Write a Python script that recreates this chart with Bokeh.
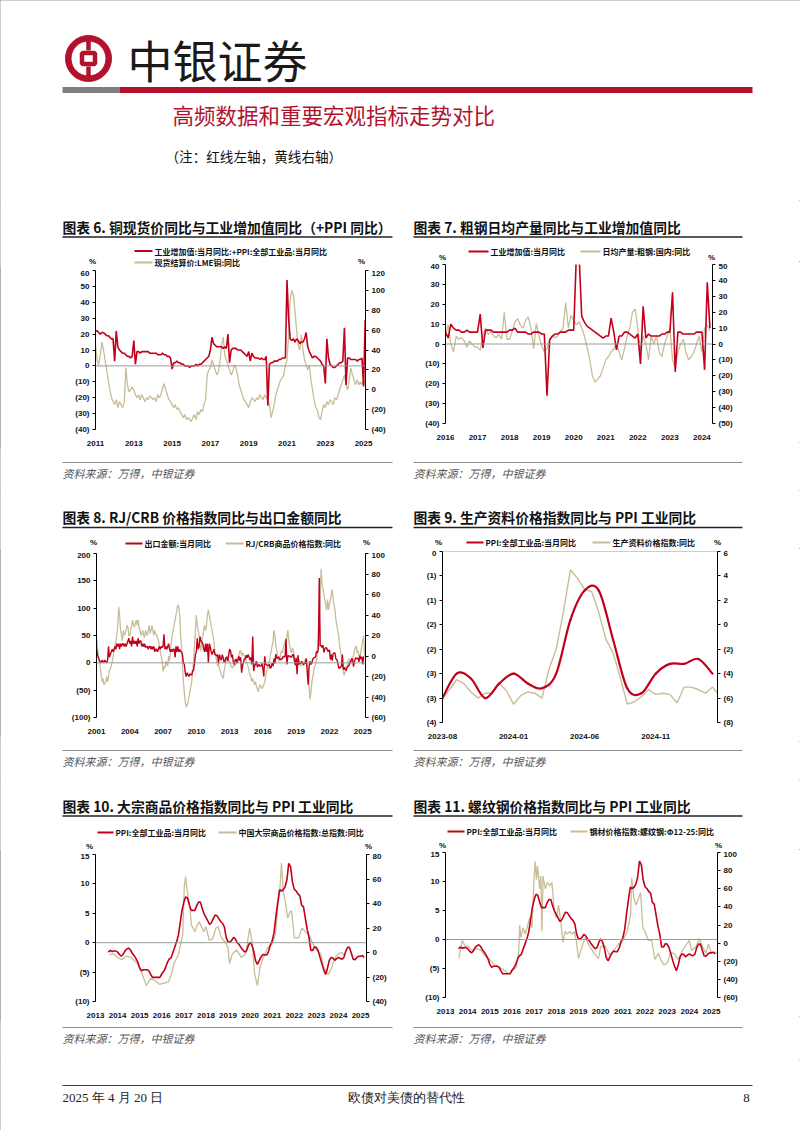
import math
from bokeh.plotting import figure
from bokeh.models import (Range1d, LinearAxis, FixedTicker, CustomJSTickFormatter,
                          Span, Label)
from bokeh.layouts import column, row
from bokeh.embed import file_html
from bokeh.resources import INLINE

RED = "#C2001B"
TAN = "#C8BD99"
BRAND = "#B3122E"
CJK = "Noto Sans CJK SC"
NUM = "Liberation Sans"
SERIF = "Liberation Serif"

# ======================= DATA =======================
# Chart 6: monthly from 2011-01
c6_start = (2011, 1)
c6_iva_plus_ppi = [
    22, 22, 21, 20, 21, 21, 20, 19, 19, 18, 17, 17,
    3, 22, 12, 10, 9, 8, 8, 7, 6, 6, 5, 6,
    16, 1, 9, 9, 8, 9, 9, 9, 9, 9, 8, 8,
    8, 8, 8, 7, 7, 7, 8, 7, 7, 6, 6, 5,
    -2, 2, 2, 3, 2, 2, 1, 1, 0, 0, 0, -1,
    0, 0, 0, 1, 0, 1, 1, 2, 3, 4, 5, 6,
    10, 18, 14, 13, 12, 12, 12, 12, 11, 12, 11, 20,
    2, 10, 11, 11, 11, 10, 10, 10, 9, 8, 7, 6,
    9, 3, 8, 6, 5, 5, 5, 4, 5, 4, 4, 6,
    -25, 1, 2, 2, 3, 3, 3, 4, 4, 5, 5, 5,
    54, 30, 17, 16, 17, 15, 17, 16, 14, 15, 15, 17,
    21, 12, 9, 7, 5, 6, 6, 5, 4, 3, 1, 0,
    -11, 17, 5, 1, 0, -1, -1, 0, 1, 2, 2, 3,
    24, -12, 5, 5, 4, 4, 4, 4, 3, 4, 4, 5,
    -13, 29,
]
c6_lme_copper = [
    45, 30, 25, 35, 48, 40, 30, 20, 10, 0, -8, -12,
    -15, -10, -18, -12, -15, -18, -13, 22, 5, -2, 0, 3,
    0, -5, -8, -5, -10, -5, -8, -12, -8, -10, -6, -8,
    -10, -8, -12, -5, -8, -5, 2, 6, 0, -5, -10, -12,
    -15, -18, -15, -20, -18, -22, -25, -28, -25, -30, -28, -30,
    -32, -28, -25, -30, -22, -25, -20, -22, -15, -10, 15, 20,
    22, 30, 25, 20, 15, 18, 28, 45, 53, 35, 30, 25,
    20, 15, 18, 25, 22, 15, 5, 0, -5, -10, -12, -15,
    -18, -12, -8, -10, -12, -8, -10, -5, -8, -10, -5, -8,
    -10, -15, -28, -22, -15, -5, 0, 5, 10, 12, 15, 25,
    30, 55, 90, 100, 95, 80, 60, 45, 40, 55, 40, 30,
    25, 20, 25, 10, 0, -10, -18, -20, -28, -30, -22, -15,
    -18, -12, -15, -10, -12, -15, -8, -10, -5, 0, 5, 10,
    15, 5, 0, 10, 22, 15, 10, 5, 10, 5, 8, 5,
    10, 5,
]
c6_years = list(range(2011, 2026, 2))
c6_left_ticks = list(range(-40, 61, 10))
c6_right_ticks = list(range(-40, 121, 20))

# Chart 7: monthly from 2016-01
c7_start = (2016, 1)
c7_iva = [
    6, 3, 10, 8, 7, 7, 6, 6, 7, 6, 6, 6,
    6, 15, -2, 7, 7, 7, 6, 6, 6, 6, 6, 6,
    7, 7, 8, 6, 6, 6, 6, 5, 5, 6, 6, 6,
    5, 5, -26, 2, 4, 5, 5, 6, 6, 6, 7, 7,
    7, 45, 45, 14, 11, 9, 8, 7, 6, 5, 4, 3,
    4, 4, 13, 6, -3, 4, 4, 6, 6, 5, 4, 3,
    5, -10, 19, 3, 5, 4, 4, 4, 4, 5, 5, 6,
    6, 26, -14, 6, 6, 5, 5, 5, 5, 5, 6, 6,
    6, -13, 31, 8,
]
c7_steel = [
    5, 12, 0, -5, 5, 3, 4, 2, -2, 2, 0, -2,
    -2, -4, 5, 10, 6, 8, 5, 4, 6, 3, 20, 3,
    3, 8, 14, 16, 12, 10, 15, 17, 10, -3, 13, 5,
    -1, -5, -3, 3, 5, 4, 5, 8, 10, 26, 10, 18,
    15, 12, 14, 10, 5, -2, -10, -20, -24, -22, -20, -15,
    -10, -8, -5, -3, 0, -5, -10, -3, 5, 10, 20, 22,
    10, -5, 5, 0, -10, 5, 0, 5, -5, -8, 0, 5,
    10, -10, -15, -5, 0, 3, -5, -10, -8, -5, 0, 5,
    -5, 10, 12, 8,
]
c7_years = list(range(2016, 2025))
c7_left_ticks = list(range(-40, 41, 10))
c7_right_ticks = list(range(-50, 51, 10))

# Chart 8: monthly from 2001-01
c8_start = (2001, 1)
c8_exports = [
    25, 15, 10, 5, 2, 0, 5, 3, 0, 5, 2, 0,
    5, 30, 10, 15, 20, 25, 20, 25, 30, 25, 35, 30,
    35, 25, 35, 30, 35, 35, 30, 35, 30, 35, 40, 45,
    35, 40, 30, 48, 35, 40, 35, 40, 30, 45, 35, 40,
    40, 30, 35, 30, 35, 28, 30, 30, 25, 30, 30, 25,
    30, 25, 30, 20, 25, 25, 20, 25, 30, 25, 30, 28,
    30, 52, 25, 30, 25, 30, 35, 25, 20, 25, 20, 25,
    25, 10, 30, 20, 30, 20, 25, 20, 20, 15, 0, -3,
    -18, -25, -18, -22, -25, -20, -22, -22, -15, -13, -2, 15,
    20, 45, 25, 30, 48, 40, 38, 35, 25, 20, 35, 20,
    35, 0, 35, 30, 20, 15, 20, 25, 15, 15, 12, 15,
    -1, 15, 8, 5, 15, 10, 1, 3, 10, 10, 3, 14,
    25, 22, 10, 15, 1, -3, 5, 7, 0, 5, 12, 4,
    10, -18, -6, 1, 7, 7, 14, 9, 15, 11, 5, 10,
    -3, 48, -15, -6, -2, 3, -8, -5, -3, -6, -6, -1,
    -11, -25, 12, -2, -4, -5, -4, -3, -10, -8, 0, -6,
    8, -1, 16, 8, 9, 11, 7, 5, 8, 7, 12, 11,
    11, 44, -3, 13, 13, 11, 12, 10, 15, 15, 5, -4,
    9, -21, 14, -3, 1, -1, 3, -1, -3, -1, -1, 8,
    -17, -40, -7, 3, -3, 0, 7, 9, 10, 11, 21, 18,
    25, 155, 31, 32, 28, 32, 19, 25, 28, 27, 22, 21,
    24, 6, 15, 4, 17, 18, 18, 7, 6, 0, -9, -10,
    -7, -7, 15, -12, -8, -12, -14, -9, -6, -6, 1, 2,
    8, 6, -7, 2, 8, 9, 7, 9, 2, 13, 7, 11,
    -3, 12,
]
c8_rjcrb = [
    18, 10, 0, -5, -10, -18, -25, -22, -28, -27, -25, -20,
    -25, -20, -15, -12, -10, -5, 0, 5, 10, 15, 20, 30,
    48, 40, 25, 20, 15, 25, 20, 22, 25, 30, 28, 20,
    20, 25, 30, 35, 30, 28, 32, 35, 30, 35, 28, 25,
    20, 22, 25, 20, 18, 25, 22, 20, 25, 30, 22, 25,
    30, 25, 20, 25, 22, 20, 18, 15, 10, 5, 0, -5,
    -15, -10, -12, -5, -8, -10, 0, -5, 5, 15, 20, 25,
    30, 35, 40, 45, 50, 48, 40, 20, 10, -10, -25, -35,
    -45, -50, -48, -45, -40, -35, -30, -25, -15, -5, 10, 25,
    40, 30, 25, 20, 10, 5, 15, 20, 25, 30, 25, 30,
    40, 45, 40, 35, 30, 25, 20, 15, 5, 0, -5, -10,
    -8, -12, -15, -18, -20, -22, -15, -10, -5, 0, -3, -5,
    -5, -8, -10, -12, -10, -8, -10, -5, -8, -3, 0, 5,
    5, 0, 3, 2, 0, -2, -5, -8, -10, -15, -18, -20,
    -25, -22, -25, -28, -25, -30, -32, -35, -30, -28, -30, -32,
    -30, -28, -25, -20, -15, -10, -12, -5, 0, 5, 10, 15,
    25, 20, 10, 5, 0, -5, -3, 0, 5, 3, 8, 10,
    15, 10, 20, 25, 15, 10, 5, 3, 8, 5, 0, -5,
    -10, -8, -5, -3, -8, -10, -5, -8, -10, -5, -3, -5,
    -10, -15, -30, -42, -35, -25, -20, -15, -10, -8, -5, 5,
    20, 40, 60, 85, 70, 65, 60, 55, 50, 45, 55, 45,
    50, 55, 60, 65, 55, 50, 45, 35, 30, 25, 20, 10,
    5, 0, -10, -15, -19, -15, -10, -12, -5, -3, -5, -8,
    -5, -3, 0, 5, 8, 10, 3, 5, 0, -3, 5, 10,
    15, 20, 0,
]
c8_years = list(range(2001, 2026, 3))
c8_left_ticks = list(range(-100, 201, 50))
c8_right_ticks = list(range(-60, 101, 20))

# Chart 9: monthly PPI and half-monthly means-of-production price index
c9_months = ["2023-08", "2023-09", "2023-10", "2023-11", "2023-12", "2024-01",
             "2024-02", "2024-03", "2024-04", "2024-05", "2024-06", "2024-07",
             "2024-08", "2024-09", "2024-10", "2024-11", "2024-12", "2025-01",
             "2025-02", "2025-03"]
c9_ppi = [-3.0, -2.5, -2.6, -3.0, -2.7, -2.5, -2.7, -2.8, -2.5, -1.4,
          -0.8, -0.8, -1.8, -2.8, -2.9, -2.5, -2.3, -2.3, -2.2, -2.5]
c9_means_of_prod = [-6.0, -5.3, -4.5, -4.8, -5.5, -6.0, -5.6, -5.6, -4.8, -5.4,
                    -6.5, -5.8, -5.5, -5.6, -6.0, -3.6, -2.0, 1.0, 4.5, 3.8,
                    2.9, 2.7, 1.0, -1.2, -2.3, -4.3, -6.5, -6.3, -5.9, -5.3,
                    -5.7, -5.6, -5.7, -6.4, -5.1, -5.1, -5.3, -5.6, -5.1, -5.8]
c9_tick_labels = ["2023-08", "2024-01", "2024-06", "2024-11"]
c9_left_ticks = [0, -0.5, -1, -1.5, -2, -2.5, -3, -3.5]
c9_right_ticks = list(range(-8, 7, 2))

# PPI monthly from 2013-08 (charts 10, 11)
ppi_start = (2013, 8)
ppi = [
    -1.6, -1.3, -1.5, -1.4, -1.4,
    -1.6, -2.0, -2.3, -2.0, -1.4, -1.1, -0.9, -1.2, -1.8, -2.2, -2.7, -3.3,
    -4.3, -4.8, -4.6, -4.6, -4.6, -4.8, -5.4, -5.9, -5.9, -5.9, -5.9, -5.9,
    -5.3, -4.9, -4.3, -3.4, -2.8, -2.6, -1.7, -0.8, 0.1, 1.2, 3.3, 5.5,
    6.9, 7.8, 7.6, 6.4, 5.5, 5.5, 5.5, 6.3, 6.9, 6.9, 5.8, 4.9,
    4.3, 3.7, 3.1, 3.4, 4.1, 4.7, 4.6, 4.1, 3.6, 3.3, 2.7, 0.9,
    0.1, 0.1, 0.4, 0.9, 0.6, 0.0, -0.3, -0.8, -1.2, -1.6, -1.4, -0.5,
    0.1, -0.4, -1.5, -3.1, -3.7, -3.0, -2.4, -2.0, -2.1, -2.1, -1.5, -0.4,
    0.3, 1.7, 4.4, 6.8, 9.0, 8.8, 9.0, 9.5, 10.7, 13.5, 12.9, 10.3,
    9.1, 8.8, 8.3, 8.0, 6.4, 6.1, 4.2, 2.3, 0.9, -1.3, -1.3, -0.7,
    -0.8, -1.4, -2.5, -3.6, -4.6, -5.4, -4.4, -3.0, -2.5, -2.6, -3.0, -2.7,
    -2.5, -2.7, -2.8, -2.5, -1.4, -0.8, -0.8, -1.8, -2.8, -2.9, -2.5, -2.3,
    -2.3, -2.2, -2.5,
]
c10_date = [2013.63, 2013.8, 2014.0, 2014.2, 2014.4, 2014.6, 2014.9, 2015.1, 2015.3, 2015.5,
            2015.7, 2015.9, 2016.1, 2016.3, 2016.45, 2016.55, 2016.75, 2016.95, 2017.02, 2017.08,
            2017.15, 2017.25, 2017.35, 2017.5, 2017.6, 2017.7, 2017.9, 2018.0, 2018.15, 2018.3,
            2018.45, 2018.55, 2018.7, 2018.85, 2019.0, 2019.07, 2019.2, 2019.4, 2019.6, 2019.8,
            2019.98, 2020.1, 2020.2, 2020.33, 2020.45, 2020.6, 2020.8, 2021.0, 2021.15, 2021.25,
            2021.35, 2021.42, 2021.5, 2021.6, 2021.7, 2021.8, 2021.88, 2022.0, 2022.2, 2022.35,
            2022.5, 2022.65, 2022.85, 2023.0, 2023.2, 2023.35, 2023.55, 2023.7, 2023.85, 2024.0,
            2024.15, 2024.25]
c10_commodity = [-2, -1, -4, -6, -3, -4, -9, -17, -27, -21,
                 -23, -26, -25, -24, -17, -9, -2, 15, 54, 62,
                 50, 40, 22, 17, 22, 25, 17, 21, 10, 11,
                 20, 21, 12, 9, 4, -9, -1, 2, -4, -1,
                 20, 7, -17, -27, -12, -4, 4, 7, 15, 36,
                 52, 73, 50, 41, 28, 33, 34, 12, 12, 20,
                 17, 15, 7, 2, -1, -13, -18, -12, -4, -1,
                 0, -2]
c10_years = list(range(2013, 2026))
c10_left_ticks = list(range(-10, 16, 5))
c10_right_ticks = list(range(-40, 81, 20))

c11_date = [2013.6, 2013.75, 2013.9, 2014.0, 2014.2, 2014.4, 2014.6, 2014.8, 2015.0, 2015.2,
            2015.4, 2015.6, 2015.8, 2015.9, 2016.0, 2016.2, 2016.3, 2016.35, 2016.4, 2016.5,
            2016.6, 2016.8, 2016.9, 2017.0, 2017.05, 2017.1, 2017.15, 2017.25, 2017.3, 2017.35,
            2017.4, 2017.5, 2017.6, 2017.7, 2017.8, 2017.9, 2018.0, 2018.1, 2018.2, 2018.3,
            2018.4, 2018.5, 2018.6, 2018.7, 2018.8, 2018.9, 2019.0, 2019.1, 2019.3, 2019.5,
            2019.7, 2019.9, 2020.0, 2020.2, 2020.4, 2020.6, 2020.8, 2021.0, 2021.2, 2021.35,
            2021.4, 2021.5, 2021.6, 2021.7, 2021.8, 2021.9, 2022.0, 2022.15, 2022.3, 2022.45,
            2022.6, 2022.7, 2022.85, 2023.0, 2023.15, 2023.3, 2023.5, 2023.65, 2023.8, 2024.0,
            2024.1, 2024.3, 2024.45, 2024.6, 2024.75, 2024.85, 2025.0, 2025.15, 2025.25]
c11_rebar = [-17, 3, -4, -3, -8, -6, -8, -15, -18, -24,
             -26, -29, -33, -34, -31, -26, -11, 20, 6, 17,
             10, 28, 17, 74, 90, 70, 85, 60, 74, 13,
             74, 60, 67, 63, 67, 38, 28, 42, 24, 1,
             13, 10, 13, 10, 13, 3, -17, -8, 6, -3,
             -11, -17, -4, -3, -13, -8, -1, 3, 13, 31,
             72, 49, 42, 49, 56, 17, 13, 3, 3, -18,
             -11, -18, -24, -22, -11, -11, -18, -10, -4, 3,
             -8, -4, 5, -4, -11, -1, -11, -10, -11]
c11_years = list(range(2013, 2026))
c11_left_ticks = list(range(-10, 16, 5))
c11_right_ticks = list(range(-60, 101, 20))

# ======================= HELPERS =======================
PAREN_JS = """
const a = Math.round(Math.abs(tick));
return tick < -1e-9 ? '(' + a + ')' : '' + a;
"""


def monthly_x(start, n):
    y0, m0 = start
    return [y0 + (m0 - 1 + i) / 12.0 for i in range(n)]


def style_y(a, ticks):
    a.ticker = FixedTicker(ticks=ticks)
    a.formatter = CustomJSTickFormatter(code=PAREN_JS)
    a.axis_line_color = "#000000"
    a.axis_line_width = 1
    a.major_tick_line_color = "#000000"
    a.major_tick_out = 3
    a.major_tick_in = 0
    a.minor_tick_line_color = None
    a.major_label_text_font = NUM
    a.major_label_text_font_size = "8px"
    a.major_label_text_font_style = "bold"
    a.major_label_text_color = "#111111"
    a.major_label_standoff = 3


def make_chart(x0, y0, w, h, frame, xr, yl, yr, xticks, lticks, rticks):
    fl, ft, fr, fb = frame
    p = figure(width=w, height=h, x_range=Range1d(*xr), y_range=Range1d(*yl),
               output_backend="svg", toolbar_location=None, title_location=None,
               min_border_left=fl - x0, min_border_right=x0 + w - fr,
               min_border_top=ft - y0, min_border_bottom=y0 + h - fb,
               background_fill_color="white", border_fill_color="white",
               outline_line_color=None)
    p.grid.visible = False
    style_y(p.yaxis[0], lticks)
    p.extra_y_ranges = {"r": Range1d(*yr)}
    ra = LinearAxis(y_range_name="r")
    style_y(ra, rticks)
    p.add_layout(ra, "right")
    xa = p.xaxis[0]
    xa.ticker = FixedTicker(ticks=xticks)
    xa.axis_line_color = None
    xa.major_tick_line_color = None
    xa.minor_tick_line_color = None
    xa.major_label_text_font = NUM
    xa.major_label_text_font_size = "8px"
    xa.major_label_text_font_style = "bold"
    xa.major_label_text_color = "#111111"
    xa.major_label_standoff = 5
    p.add_layout(Span(location=0, dimension="width", line_color="#9A9A9A", line_width=1))
    return p


def band(x0, y0, w, h):
    """A plain figure whose data coordinates equal page pixel coordinates."""
    p = figure(width=w, height=h, x_range=Range1d(x0, x0 + w), y_range=Range1d(y0 + h, y0),
               output_backend="svg", toolbar_location=None, title_location=None,
               x_axis_location=None, y_axis_location=None, min_border=0,
               outline_line_color=None, background_fill_color="white",
               border_fill_color="white")
    p.grid.visible = False
    return p


def txt(p, x, y, text, size, color="#111111", font=CJK, style="normal",
        align="left", base="middle"):
    p.add_layout(Label(x=x, y=y, text=text, text_font=font, text_font_size=size,
                       text_font_style=style, text_color=color,
                       text_align=align, text_baseline=base))


def hbar(p, x1, x2, y, th, color):
    p.quad(left=[x1], right=[x2], top=[y - th / 2.0], bottom=[y + th / 2.0],
           fill_color=color, line_color=None)


def top_band(x0, y0, w, h, title, tx, ty, uy, ux2, legend, pl, pr, py):
    b = band(x0, y0, w, h)
    txt(b, tx, ty, title, "13.8px", "#111111", CJK, "bold")
    hbar(b, tx, ux2, uy, 1.3, "#222222")
    for (lx1, lx2, ly, color, label) in legend:
        hbar(b, lx1, lx2, ly, 2.0, color)
        txt(b, lx2 + 2, ly, label, "8px", "#111111", CJK, "bold")
    txt(b, pl, py, "%", "8px", "#111111", NUM, "bold", "center")
    txt(b, pr, py, "%", "8px", "#111111", NUM, "bold", "center")
    return b


def bottom_band(x0, y0, w, h, tx, ux2, sep_y, src_y):
    b = band(x0, y0, w, h)
    hbar(b, tx, ux2, sep_y, 1.0, "#8C8C8C")
    txt(b, tx, src_y, "资料来源：万得，中银证券", "11px", "#555555", CJK, "italic")
    return b


def bezier_line(p, xs, ys, **kw):
    n = len(xs)
    d = dict(x0=[], y0=[], x1=[], y1=[], cx0=[], cy0=[], cx1=[], cy1=[])
    for i in range(n - 1):
        xm, ym = (xs[i - 1], ys[i - 1]) if i > 0 else (xs[i], ys[i])
        xp, yp = (xs[i + 2], ys[i + 2]) if i + 2 < n else (xs[i + 1], ys[i + 1])
        d["x0"].append(xs[i]); d["y0"].append(ys[i])
        d["x1"].append(xs[i + 1]); d["y1"].append(ys[i + 1])
        d["cx0"].append(xs[i] + (xs[i + 1] - xm) / 6.0)
        d["cy0"].append(ys[i] + (ys[i + 1] - ym) / 6.0)
        d["cx1"].append(xs[i + 1] - (xp - xs[i]) / 6.0)
        d["cy1"].append(ys[i + 1] - (yp - ys[i]) / 6.0)
    p.bezier(line_cap="round", **d, **kw)


W = 400  # width of each half column

# ======================= HEADER =======================
hdr = band(0, 0, 2 * W, 200)
hdr.annulus(x=[88], y=[58], inner_radius=17.5, outer_radius=23, color=BRAND)
hdr.rect(x=[88], y=[58], width=13, height=11, fill_color=None, line_color=BRAND, line_width=4.5)
hdr.segment(x0=[88, 88], y0=[36, 66], x1=[88, 88], y1=[50, 80], line_color=BRAND, line_width=4.5)
txt(hdr, 127, 59, "中银证券", "45px", "#1A1A1A")
hbar(hdr, 62, 119, 89.5, 6, "#7F7F7F")
hbar(hdr, 119, 752, 89.5, 6, BRAND)
txt(hdr, 172, 114, "高频数据和重要宏观指标走势对比", "21.5px", BRAND)
txt(hdr, 165, 155, "（注：红线左轴，黄线右轴）", "13.6px", "#111111")

# ======================= ROW 1 =======================
# Chart 6
t6 = top_band(0, 200, W, 68, "图表 6. 铜现货价同比与工业增加值同比（+PPI 同比）",
              62, 226, 236.5, 392,
              [(134, 152, 250.5, RED, "工业增加值:当月同比:+PPI:全部工业品:当月同比"),
               (134, 152, 262, TAN, "现货结算价:LME铜:同比")],
              92, 361, 261)
c6 = make_chart(0, 268, W, 180, (95, 270, 365, 434), (2011.0, 2025.1), (-40, 60), (-40, 120),
                c6_years, c6_left_ticks, c6_right_ticks)
c6.line(monthly_x(c6_start, len(c6_lme_copper)), c6_lme_copper, y_range_name="r",
        line_color=TAN, line_width=1.3)
c6.line(monthly_x(c6_start, len(c6_iva_plus_ppi)), c6_iva_plus_ppi,
        line_color=RED, line_width=1.6)
b6 = bottom_band(0, 448, W, 42, 62, 392, 462, 472)

# Chart 7
t7 = top_band(W, 200, W, 61, "图表 7. 粗钢日均产量同比与工业增加值同比",
              413, 226, 236.5, 742,
              [(468, 488, 251, RED, "工业增加值:当月同比"),
               (580, 600, 251, TAN, "日均产量:粗钢:国内:同比")],
              442, 711, 257)
c7 = make_chart(W, 261, W, 181, (445, 264, 712, 428), (2016.0, 2024.33), (-40, 40), (-50, 50),
                c7_years, c7_left_ticks, c7_right_ticks)
c7.line(monthly_x(c7_start, len(c7_steel)), c7_steel, y_range_name="r",
        line_color=TAN, line_width=1.3)
c7.line(monthly_x(c7_start, len(c7_iva)), c7_iva, line_color=RED, line_width=1.6)
b7 = bottom_band(W, 442, W, 48, 413, 742, 462, 472)

# ======================= ROW 2 =======================
# Chart 8
t8 = top_band(0, 490, W, 60, "图表 8. RJ/CRB 价格指数同比与出口金额同比",
              62, 516, 527, 392,
              [(125, 142, 543, RED, "出口金额:当月同比"),
               (225, 243, 543, TAN, "RJ/CRB商品价格指数:同比")],
              93, 366, 542)
c8 = make_chart(0, 550, W, 186, (96, 553, 365, 722), (2001.0, 2025.25), (-100, 200), (-60, 100),
                c8_years, c8_left_ticks, c8_right_ticks)
c8.line(monthly_x(c8_start, len(c8_rjcrb)), c8_rjcrb, y_range_name="r",
        line_color=TAN, line_width=1.3)
c8.line(monthly_x(c8_start, len(c8_exports)), c8_exports, line_color=RED, line_width=1.4)
b8 = bottom_band(0, 736, W, 44, 62, 392, 750, 760)

# Chart 9
t9 = top_band(W, 490, W, 58, "图表 9. 生产资料价格指数同比与 PPI 工业同比",
              413, 516, 527, 742,
              [(466, 483, 542, RED, "PPI:全部工业品:当月同比"),
               (592, 610, 542, TAN, "生产资料价格指数:同比")],
              438, 717, 542)
c9_ticks = [c9_months.index(m) for m in c9_tick_labels]
c9 = make_chart(W, 548, W, 193, (442, 551, 717, 727), (0, 19.35), (-3.5, 0), (-8, 6),
                c9_ticks, c9_left_ticks, c9_right_ticks)
c9.xaxis[0].major_label_overrides = {i: m for i, m in zip(c9_ticks, c9_tick_labels)}
c9.line([i * 0.5 for i in range(len(c9_means_of_prod))], c9_means_of_prod,
        y_range_name="r", line_color=TAN, line_width=1.4)
bezier_line(c9, list(range(len(c9_ppi))), c9_ppi, line_color=RED, line_width=2.2)
b9 = bottom_band(W, 741, W, 39, 413, 742, 750, 760)

# ======================= ROW 3 =======================
# Chart 10
t10 = top_band(0, 780, W, 71, "图表 10. 大宗商品价格指数同比与 PPI 工业同比",
               62, 805, 815.5, 392,
               [(97, 113, 832, RED, "PPI:全部工业品:当月同比"),
                (218, 236, 832, TAN, "中国大宗商品价格指数:总指数:同比")],
               89, 368, 846)
c10 = make_chart(0, 851, W, 169, (95, 854, 366, 1006), (2013.0, 2025.27), (-10, 15), (-40, 80),
                 c10_years, c10_left_ticks, c10_right_ticks)
n10 = min(len(c10_date), len(c10_commodity))
c10.line(c10_date[:n10], c10_commodity[:n10], y_range_name="r", line_color=TAN, line_width=1.3)
c10.line(monthly_x(ppi_start, len(ppi)), ppi, line_color=RED, line_width=1.6)
b10 = bottom_band(0, 1020, W, 40, 62, 392, 1027, 1037)

# Chart 11
t11 = top_band(W, 780, W, 69, "图表 11. 螺纹钢价格指数同比与 PPI 工业同比",
               413, 805, 815.5, 742,
               [(447, 464, 831, RED, "PPI:全部工业品:当月同比"),
                (570, 587, 831, TAN, "钢材价格指数:螺纹钢:Φ12-25:同比")],
               442, 718, 845)
c11 = make_chart(W, 849, W, 167, (445, 852, 717, 1002), (2013.0, 2025.27), (-10, 15), (-60, 100),
                 c11_years, c11_left_ticks, c11_right_ticks)
n11 = min(len(c11_date), len(c11_rebar))
c11.line(c11_date[:n11], c11_rebar[:n11], y_range_name="r", line_color=TAN, line_width=1.3)
c11.line(monthly_x(ppi_start, len(ppi)), ppi, line_color=RED, line_width=1.6)
b11 = bottom_band(W, 1016, W, 44, 413, 742, 1027, 1037)

# ======================= FOOTER =======================
ftr = band(0, 1060, 2 * W, 70)
hbar(ftr, 62, 752, 1085, 1.2, "#A0102E")
txt(ftr, 62, 1097, "2025 年 4 月 20 日", "13px", "#222222", SERIF)
txt(ftr, 406, 1097, "欧债对美债的替代性", "13px", "#222222", SERIF, align="center")
txt(ftr, 746, 1097, "8", "13px", "#222222", SERIF, align="center")


def stack(top, chart, bottom):
    # wrap the chart so the plain text bands are not frame-aligned with it
    return column(top, row(chart), bottom)


layout = column(
    hdr,
    row(stack(t6, c6, b6), stack(t7, c7, b7)),
    row(stack(t8, c8, b8), stack(t9, c9, b9)),
    row(stack(t10, c10, b10), stack(t11, c11, b11)),
    ftr,
    styles={"outline": "1px solid #9A9A9A", "outline-offset": "-1px"},
)
open("out.html", "w", encoding="utf-8").write(file_html(layout, INLINE, title="高频数据"))
